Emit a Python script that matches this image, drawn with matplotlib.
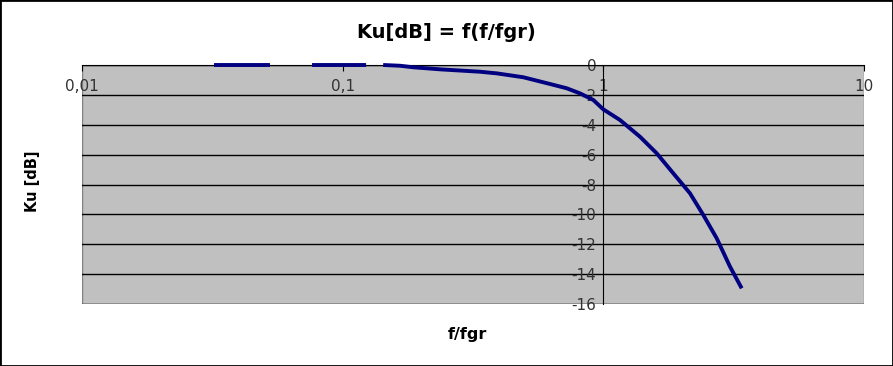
import numpy as np
import matplotlib
matplotlib.use('Agg')
import matplotlib.pyplot as plt
from matplotlib.patches import Rectangle

# data (nan = gap in the line)
f_fgr = [0.0321, 0.0526, np.nan, 0.0763, 0.123, np.nan,
         0.143, 0.166, 0.186, 0.236, 0.336, 0.390, 0.493, 0.624, 0.724, 0.814,
         0.915, 1.0, 1.158, 1.382, 1.602, 1.855, 2.150, 2.418, 2.722, 3.062, 3.395]
ku_db = [0, 0, np.nan, 0, 0, np.nan,
         0, -0.05, -0.15, -0.29, -0.45, -0.56, -0.82, -1.27, -1.56, -1.9,
         -2.34, -2.97, -3.68, -4.8, -5.91, -7.25, -8.59, -10.04, -11.6, -13.5, -14.95]

xticks = [0.01, 0.1, 1, 10]
xticklabels = ['0,01', '0,1', '1', '10']
yticks = list(range(0, -17, -2))
yticklabels = ['0'] + ['-%d' % -v for v in yticks[1:]]

fig = plt.figure(figsize=(8.93, 3.66), dpi=100)
ax = fig.add_axes([82 / 893, 1 - 304 / 366, (864 - 82) / 893, (304 - 65) / 366])
ax.set_facecolor('#c0c0c0')

ax.set_xscale('log')
ax.set_xlim(0.01, 10)
ax.set_ylim(-16, 0)

# horizontal grid
for v in yticks:
    ax.axhline(v, color='black', lw=1, zorder=1)

ax.plot(f_fgr, ku_db, color='#000080', lw=2.8, clip_on=False, zorder=3,
        solid_capstyle='butt')

# axes cross at x=1 / y=0
ax.spines['left'].set_position(('data', 1))
ax.spines['bottom'].set_position(('data', 0))
ax.spines['top'].set_visible(False)
ax.spines['right'].set_visible(False)
ax.spines['left'].set_color('black')
ax.spines['bottom'].set_color('black')
ax.spines['left'].set_zorder(2)
ax.add_patch(Rectangle((0, 0), 1, 1, transform=ax.transAxes, fill=False,
                       edgecolor='#808080', lw=1, zorder=0.5))

ax.set_xticks(xticks)
ax.set_xticklabels(xticklabels)
ax.xaxis.set_minor_locator(matplotlib.ticker.NullLocator())
ax.set_yticks(yticks)
ax.set_yticklabels(yticklabels)
ax.tick_params(axis='x', direction='out', length=4, pad=6, labelsize=11,
               labelcolor='#333333')
ax.tick_params(axis='y', length=0, pad=5, labelsize=11, labelcolor='#333333')

fig.text(0.5, 1 - 32 / 366, 'Ku[dB] = f(f/fgr)', ha='center', va='center',
         fontsize=14, fontweight='bold')
fig.text(33 / 893, 185 / 366, 'Ku [dB]', ha='center', va='center', rotation=90,
         fontsize=10.5, fontweight='bold')
fig.text(467 / 893, 1 - 335 / 366, 'f/fgr', ha='center', va='center',
         fontsize=11.5, fontweight='bold')

fig.patches.append(Rectangle((0, 0), 1, 1, transform=fig.transFigure, fill=False,
                             edgecolor='black', lw=2))

fig.savefig('out.png', dpi=100)
